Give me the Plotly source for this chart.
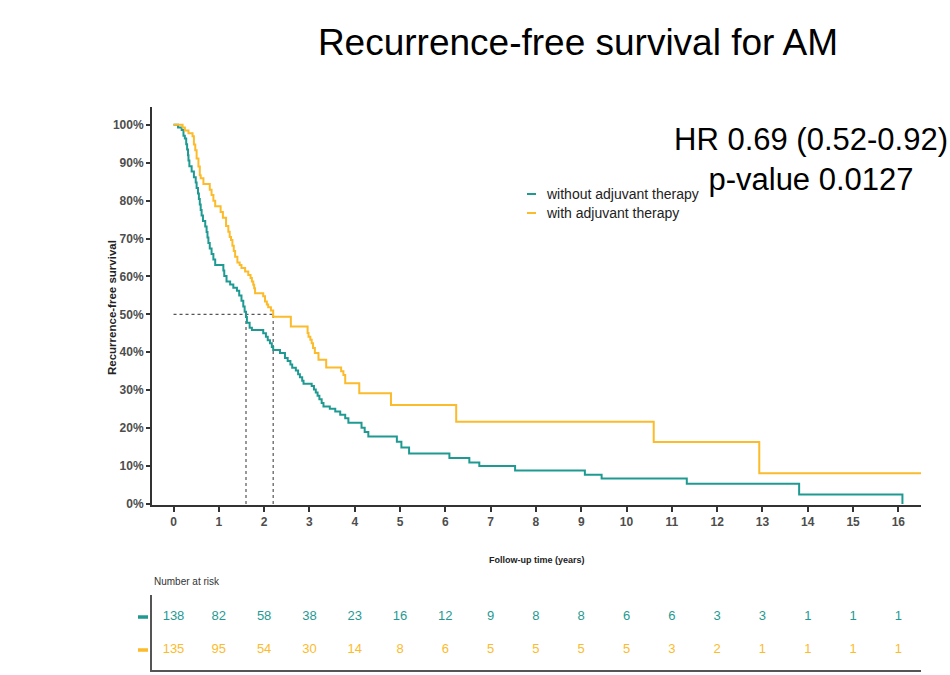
import plotly.graph_objects as go

# ---------------- data ----------------
series_names = ["without adjuvant therapy", "with adjuvant therapy"]
series_colors = ["#1f9a92", "#fcbb2b"]

t_without = [0, 0.1, 0.18, 0.22, 0.25, 0.28, 0.3, 0.32, 0.33, 0.35, 0.4, 0.45, 0.49, 0.51, 0.54,
             0.56, 0.58, 0.6, 0.62, 0.65, 0.7, 0.73, 0.75, 0.77, 0.8, 0.84, 0.88, 0.92, 1.1, 1.12,
             1.17, 1.25, 1.32, 1.4, 1.45, 1.5, 1.54, 1.57, 1.6, 1.62, 1.68, 1.73, 1.98, 2.04, 2.08,
             2.13, 2.17, 2.2, 2.35, 2.46, 2.52, 2.58, 2.62, 2.7, 2.75, 2.79, 2.84, 2.87, 3.05, 3.1,
             3.14, 3.18, 3.22, 3.27, 3.31, 3.45, 3.57, 3.68, 3.79, 3.86, 4.15, 4.22, 4.3, 4.93, 5.03,
             5.2, 6.09, 6.53, 6.75, 7.54, 9.08, 9.45, 11.33, 13.81, 16.09]
s_without = [100, 99.3, 98.6, 97.1, 96.4, 94.9, 93.5, 92.0, 90.6, 89.1, 87.7, 86.2, 84.8, 83.3, 81.9,
             80.4, 79.0, 77.5, 76.1, 74.6, 73.2, 71.7, 70.3, 68.8, 67.4, 65.9, 64.5, 63.0, 61.6, 60.1,
             58.7, 57.9, 57.0, 56.2, 55.0, 53.6, 52.1, 50.7, 49.3, 47.8, 46.5, 45.9, 45.0, 44.1, 43.2,
             42.4, 41.4, 40.6, 39.8, 38.5, 37.7, 36.8, 35.9, 35.2, 34.2, 33.4, 32.5, 31.7, 31.1, 30.2,
             29.4, 28.5, 27.6, 26.6, 25.7, 25.1, 24.4, 23.5, 22.6, 21.4, 20.1, 19.0, 17.8, 16.4, 14.9,
             13.3, 12.1, 10.9, 10.0, 8.8, 7.7, 6.7, 5.3, 2.5, 0.0]

t_with = [0, 0.2, 0.25, 0.33, 0.42, 0.45, 0.48, 0.51, 0.55, 0.58, 0.6, 0.66, 0.8, 0.84, 0.88, 0.92,
          1.04, 1.09, 1.16, 1.21, 1.24, 1.27, 1.3, 1.33, 1.36, 1.41, 1.46, 1.5, 1.58, 1.65, 1.7, 1.73,
          1.76, 1.78, 1.8, 1.98, 2.02, 2.06, 2.09, 2.15, 2.2, 2.59, 2.96, 2.98, 3.02, 3.05, 3.08, 3.12,
          3.2, 3.37, 3.7, 3.75, 3.79, 4.1, 4.8, 6.24, 10.6, 12.93, 16.5]
s_with = [100, 99.3, 98.5, 97.8, 97.0, 94.8, 93.3, 91.1, 89.0, 86.7, 85.9, 84.4, 82.9, 81.5, 80.0, 78.5,
          77.0, 75.5, 73.3, 71.8, 70.4, 69.6, 68.1, 66.7, 65.2, 63.7, 63.0, 62.2, 61.3, 60.4, 59.6, 58.7,
          57.8, 56.9, 55.6, 54.8, 53.4, 52.6, 51.9, 51.0, 49.4, 46.8, 45.1, 44.1, 43.3, 42.4, 41.1, 39.8,
          38.0, 36.0, 35.0, 34.0, 31.8, 29.2, 26.1, 21.7, 16.3, 8.1, 8.1]

median_times = [1.6, 2.2]   # median survival (without, with)
median_level = 50

risk_years = list(range(17))
risk_without = [138, 82, 58, 38, 23, 16, 12, 9, 8, 8, 6, 6, 3, 3, 1, 1, 1]
risk_with = [135, 95, 54, 30, 14, 8, 6, 5, 5, 5, 5, 3, 2, 1, 1, 1, 1]

y_ticks = list(range(0, 101, 10))
y_ticktext = [f"{v}%" for v in y_ticks]

title_text = "Recurrence-free survival for AM"
stats_text = "HR 0.69 (0.52-0.92)<br>p-value 0.0127"
x_title = "Follow-up time (years)"
y_title = "Recurrence-free survival"

# ---------------- figure ----------------
SANS = "Liberation Sans, Arial, sans-serif"
AX = "#333333"
TICKC = "#4d4d4d"

fig = go.Figure()

# median reference lines
fig.add_trace(go.Scatter(x=[0, max(median_times)], y=[median_level, median_level], mode="lines",
                         line=dict(color="#555555", width=1.2, dash="3px,3px"),
                         showlegend=False, hoverinfo="skip"))
for mt in median_times:
    fig.add_trace(go.Scatter(x=[mt, mt], y=[0, median_level], mode="lines",
                             line=dict(color="#555555", width=1.2, dash="3px,3px"),
                             showlegend=False, hoverinfo="skip"))

fig.add_trace(go.Scatter(x=t_without, y=s_without, mode="lines", line_shape="hv",
                         line=dict(color=series_colors[0], width=2), name=series_names[0],
                         showlegend=False))
fig.add_trace(go.Scatter(x=t_with, y=s_with, mode="lines", line_shape="hv",
                         line=dict(color=series_colors[1], width=2), name=series_names[1],
                         showlegend=False))

# risk table
fig.add_trace(go.Scatter(x=risk_years, y=[1] * len(risk_years), mode="text",
                         text=[str(v) for v in risk_without],
                         textfont=dict(family=SANS, size=13, color=series_colors[0]),
                         xaxis="x2", yaxis="y2", showlegend=False, hoverinfo="skip"))
fig.add_trace(go.Scatter(x=risk_years, y=[0] * len(risk_years), mode="text",
                         text=[str(v) for v in risk_with],
                         textfont=dict(family=SANS, size=13, color=series_colors[1]),
                         xaxis="x2", yaxis="y2", showlegend=False, hoverinfo="skip"))

XR = [-0.475, 16.5]
fig.update_layout(
    width=950, height=675,
    margin=dict(l=152, r=29, t=107, b=5, autoexpand=False),
    paper_bgcolor="white", plot_bgcolor="white",
    title=dict(text=title_text, x=578 / 950, xanchor="center", y=1 - 42 / 675, yanchor="middle",
               font=dict(family=SANS, size=37, color="black")),
    xaxis=dict(domain=[0, 1], range=XR, tickvals=risk_years, ticks="outside", ticklen=5,
               tickwidth=1.5, tickcolor=AX, showline=True, linecolor=AX, linewidth=2,
               showgrid=False, zeroline=False, anchor="y",
               tickfont=dict(family=SANS, size=12, color=TICKC, weight="bold")),
    yaxis=dict(domain=[0.293, 1], range=[-0.3, 104.7], tickvals=y_ticks, ticktext=y_ticktext,
               ticks="outside", ticklen=4, tickwidth=1.5, tickcolor=AX, showline=True,
               linecolor=AX, linewidth=2, showgrid=False, zeroline=False, anchor="x",
               tickfont=dict(family=SANS, size=12, color=TICKC, weight="bold")),
    xaxis2=dict(domain=[0, 1], range=XR, showticklabels=False, ticks="", showline=True,
                linecolor="#555555", linewidth=1.5, showgrid=False, zeroline=False, anchor="y2"),
    yaxis2=dict(domain=[0, 0.1332], range=[-0.606, 1.667], showticklabels=False, ticks="",
                showline=True, linecolor="#555555", linewidth=1.5, showgrid=False,
                zeroline=False, anchor="x2"),
    showlegend=False,
)

annotations = [
    dict(text=stats_text, xref="paper", yref="paper", x=(811 - 152) / 769, y=0.906,
         xanchor="center", yanchor="middle", showarrow=False,
         font=dict(family=SANS, size=31, color="black")),
    dict(text=x_title, xref="paper", yref="paper", x=(537 - 152) / 769, y=(670 - 560) / 563,
         xanchor="center", yanchor="middle", showarrow=False,
         font=dict(family=SANS, size=9, color="#222222", weight="bold")),
    dict(text=y_title, xref="paper", yref="paper", x=(112 - 152) / 769, y=(670 - 308) / 563,
         xanchor="center", yanchor="middle", textangle=-90, showarrow=False,
         font=dict(family=SANS, size=11.5, color="#222222", weight="bold")),
    dict(text="Number at risk", xref="paper", yref="paper", x=0, y=(670 - 581) / 563,
         xanchor="left", yanchor="middle", showarrow=False,
         font=dict(family=SANS, size=10, color="#333333")),
    dict(text=x_title, xref="paper", yref="paper", x=(536 - 152) / 769, y=(670 - 672) / 563,
         xanchor="center", yanchor="top", showarrow=False,
         font=dict(family=SANS, size=8, color="#555555", weight="bold")),
]
legend_y = [(670 - 194) / 563, (670 - 213) / 563]
shapes = []
for name, col, ly in zip(series_names, series_colors, legend_y):
    annotations.append(dict(text=name, xref="paper", yref="paper", x=(544 - 152) / 769, y=ly,
                            xanchor="left", yanchor="middle", showarrow=False,
                            font=dict(family=SANS, size=14, color="#222222")))
    shapes.append(dict(type="line", xref="paper", yref="paper", x0=(527 - 152) / 769,
                       x1=(536 - 152) / 769, y0=ly, y1=ly, line=dict(color=col, width=2)))
for col, ry in zip(series_colors, [1, 0]):
    shapes.append(dict(type="line", xref="paper", yref="y2", x0=(138 - 152) / 769,
                       x1=(148 - 152) / 769, y0=ry, y1=ry, line=dict(color=col, width=3.5)))

fig.update_layout(annotations=annotations, shapes=shapes)
fig.write_html("out.html")
